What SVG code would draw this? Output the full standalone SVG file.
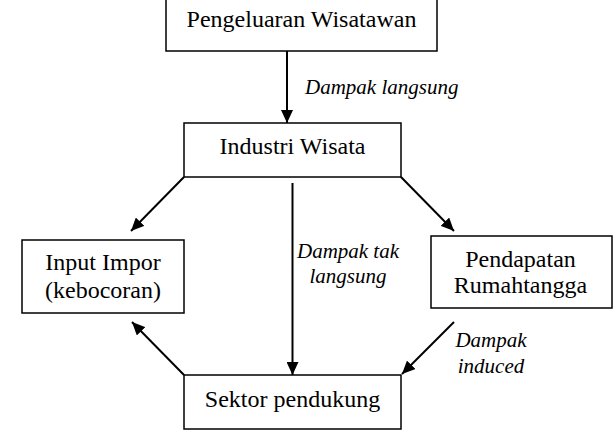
<svg xmlns="http://www.w3.org/2000/svg" width="616" height="436" viewBox="0 0 616 436">
  <style>
    .box { fill: #fff; stroke: #000; stroke-width: 1.5; }
    .lbl { font-family: 'Liberation Serif', 'Times New Roman', serif; font-size: 24px; fill: #000; text-anchor: middle; }
    .it { font-family: 'Liberation Serif', 'Times New Roman', serif; font-size: 21px; font-style: italic; fill: #000; }
    .conn { stroke: #000; stroke-width: 2; fill: none; marker-end: url(#ah); }
  </style>
  <defs>
    <marker id="ah" markerUnits="userSpaceOnUse" markerWidth="14" markerHeight="12" refX="13" refY="6" orient="auto">
      <path d="M0,0 L13,6 L0,12 z" fill="#000"/>
    </marker>
  </defs>
  <rect width="616" height="436" fill="#fff"/>
  <g id="connectors">
    <line class="conn" x1="287" y1="51" x2="287" y2="123"/>
    <line class="conn" x1="184" y1="177" x2="131" y2="231"/>
    <line class="conn" x1="401" y1="177" x2="454" y2="231"/>
    <line class="conn" x1="292.5" y1="183" x2="292.5" y2="375"/>
    <line class="conn" x1="184" y1="375" x2="132" y2="322"/>
    <line class="conn" x1="454" y1="322" x2="402" y2="374"/>
  </g>
  <g id="labels">
    <text class="it" x="305" y="94">Dampak langsung</text>
    <text class="it" x="348" y="258" text-anchor="middle">Dampak tak</text>
    <text class="it" x="348" y="283" text-anchor="middle">langsung</text>
    <text class="it" x="491" y="347" text-anchor="middle">Dampak</text>
    <text class="it" x="491" y="373" text-anchor="middle">induced</text>
  </g>
  <g id="pengeluaran">
    <rect class="box" x="166" y="-3" width="271" height="54"/>
    <text class="lbl" x="301.5" y="27">Pengeluaran Wisatawan</text>
  </g>
  <g id="industri">
    <rect class="box" x="184" y="123" width="217" height="54"/>
    <text class="lbl" x="292.5" y="154">Industri Wisata</text>
  </g>
  <g id="input">
    <rect class="box" x="22" y="240" width="162" height="73"/>
    <text class="lbl" x="103" y="270">Input Impor</text>
    <text class="lbl" x="103" y="298">(kebocoran)</text>
  </g>
  <g id="pendapatan">
    <rect class="box" x="431" y="236" width="181" height="72"/>
    <text class="lbl" x="520.5" y="267">Pendapatan</text>
    <text class="lbl" x="520.5" y="293">Rumahtangga</text>
  </g>
  <g id="sektor">
    <rect class="box" x="184" y="375" width="217" height="54"/>
    <text class="lbl" x="292.5" y="407">Sektor pendukung</text>
  </g>
</svg>
